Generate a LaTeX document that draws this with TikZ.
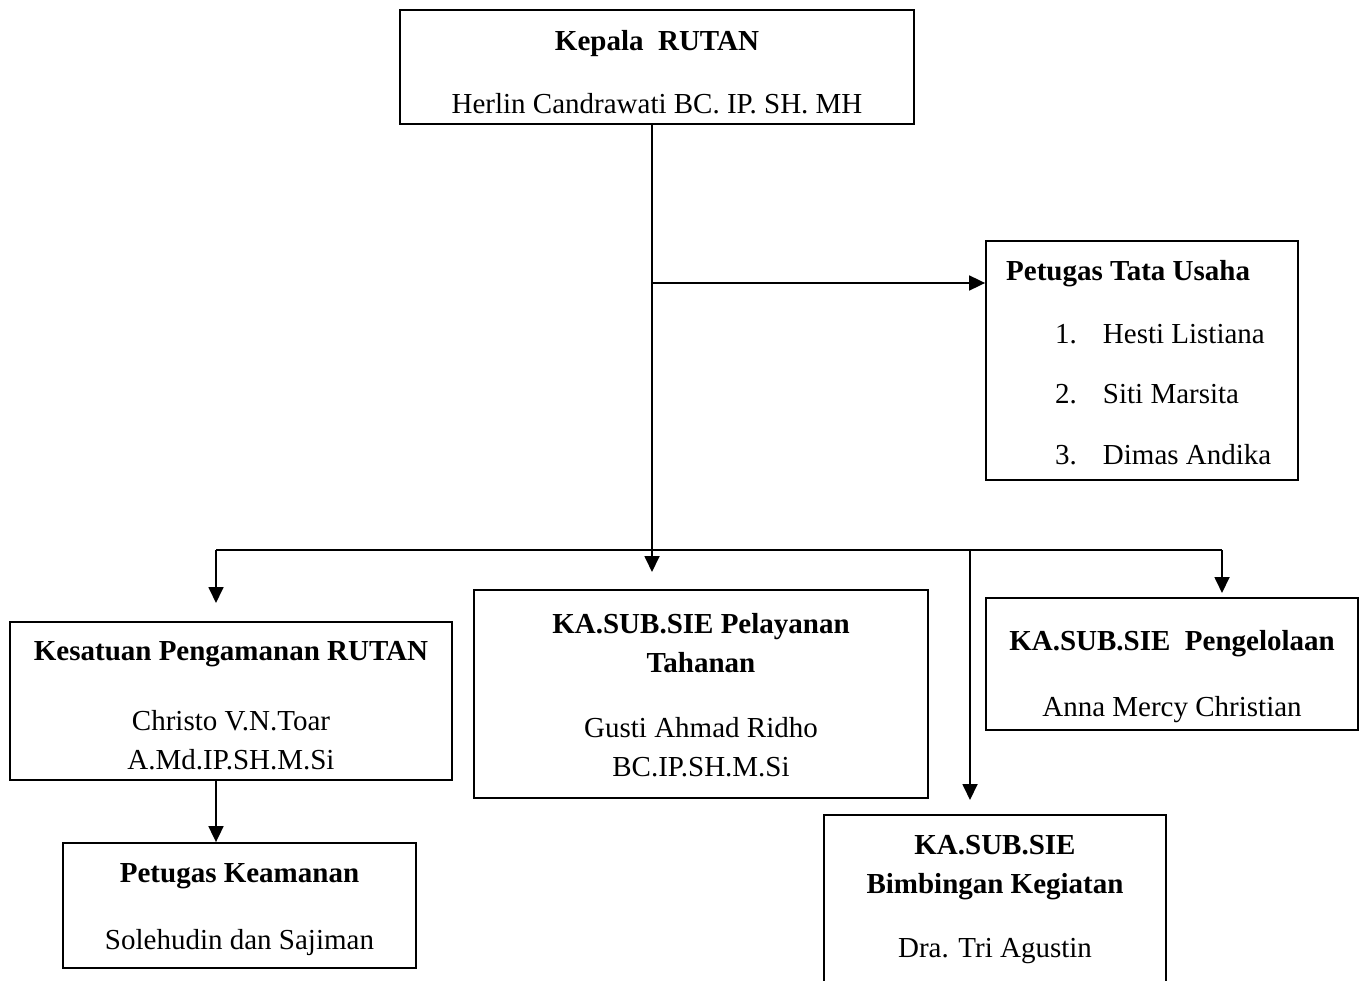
\documentclass[tikz,border=0pt]{standalone}
\usepackage{fontspec}
\setmainfont{Liberation Serif}
\usetikzlibrary{arrows.meta}
\begin{document}
\begin{tikzpicture}[x=1pt,y=-1pt,
  box/.style={draw,line width=1.8pt,rectangle,inner sep=0pt},
  txt/.style={font=\fontsize{29}{39}\selectfont,align=center,inner sep=0pt,yshift=-4pt},
  btxt/.style={font=\fontsize{29}{39}\selectfont\bfseries,align=center,inner sep=0pt,yshift=-4pt},
  conn/.style={line width=1.8pt},
  arr/.style={conn,-{Triangle[length=16pt,width=15pt]}}]
\useasboundingbox (0,0) rectangle (1364,981);
\clip (0,0) rectangle (1364,981);
% boxes
\node[box,minimum width=514pt,minimum height=114pt] (kepala) at (657,67) {};
\node[box,minimum width=312pt,minimum height=239pt] (tu) at (1142,360.5) {};
\node[box,minimum width=442pt,minimum height=158pt] (kes) at (231,701) {};
\node[box,minimum width=353pt,minimum height=125pt] (keam) at (239.5,905.5) {};
\node[box,minimum width=454pt,minimum height=208pt] (pel) at (701,694) {};
\node[box,minimum width=372pt,minimum height=132pt] (peng) at (1172,664) {};
\node[box,minimum width=342pt,minimum height=200pt] (bimb) at (995,915) {};
% texts
\node[btxt] (t1) at (657,40) {Kepala\ \ RUTAN};
\node[txt] (t2) at (657,100) {Herlin Candrawati BC. IP. SH. MH};
\node[btxt,anchor=west] (t3) at (1006,270) {Petugas Tata Usaha};
\node[txt,anchor=west] (t4) at (1055,330) {1.\hspace{26pt}Hesti Listiana};
\node[txt,anchor=west] (t5) at (1055,390) {2.\hspace{26pt}Siti Marsita};
\node[txt,anchor=west] (t6) at (1055,451) {3.\hspace{26pt}Dimas Andika};
\node[btxt] (t7) at (231,650) {Kesatuan Pengamanan RUTAN};
\node[txt] (t8) at (231,736) {Christo V.N.Toar\\A.Md.IP.SH.M.Si};
\node[btxt] (t9) at (239.5,872) {Petugas Keamanan};
\node[txt] (t10) at (239.5,939) {Solehudin dan Sajiman};
\node[btxt] (t11) at (701,639) {KA.SUB.SIE Pelayanan\\Tahanan};
\node[txt] (t12) at (701,743) {Gusti Ahmad Ridho\\BC.IP.SH.M.Si};
\node[btxt] (t13) at (1172,640) {KA.SUB.SIE\ \ Pengelolaan};
\node[txt] (t14) at (1172,706) {Anna Mercy Christian};
\node[btxt] (t15) at (995,864) {KA.SUB.SIE\\Bimbingan Kegiatan};
\node[txt] (t16) at (995,947) {Dra. Tri Agustin};
% connector points
\coordinate (trunkend) at (652,572);
\coordinate (jtu) at (652,283);
\coordinate (bl) at (216,550);
\coordinate (br) at (1222,550);
\coordinate (bm) at (970,550);
\coordinate (ekes) at (216,603);
\coordinate (ebimb) at (970,800);
\coordinate (epeng) at (1222,593);
% connectors
\draw[arr] (kepala.south -| trunkend) -- (trunkend);
\draw[arr] (jtu) -- (jtu -| tu.west);
\draw[conn] (bl) -- (br);
\draw[arr] (bl) -- (ekes);
\draw[arr] (bm) -- (ebimb);
\draw[arr] (br) -- (epeng);
\draw[arr] (kes.south -| ekes) -- (keam.north -| ekes);
\end{tikzpicture}
\end{document}
